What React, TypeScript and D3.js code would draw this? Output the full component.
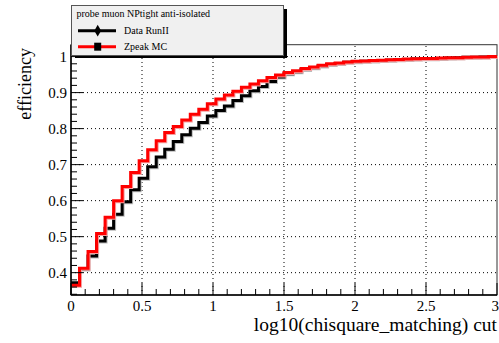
import React from "react";
import * as d3 from "d3";

const binWidth = 0.06;
const dataRunII = [
  0.372, 0.41, 0.446, 0.488, 0.523, 0.562, 0.597, 0.63, 0.662, 0.694,
  0.721, 0.743, 0.764, 0.783, 0.801, 0.817, 0.835, 0.85, 0.863, 0.878,
  0.891, 0.905, 0.917, 0.931, 0.943, 0.952, 0.958, 0.964, 0.969, 0.974,
  0.978, 0.981, 0.984, 0.986, 0.987, 0.988, 0.989, 0.99, 0.991, 0.992,
  0.993, 0.994, 0.994, 0.995, 0.996, 0.997, 0.998, 0.998, 0.999, 1.0,
];
const zpeakMC = [
  0.365, 0.412, 0.459, 0.509, 0.554, 0.6, 0.639, 0.678, 0.711, 0.741,
  0.766, 0.789, 0.806, 0.824, 0.84, 0.854, 0.869, 0.882, 0.893, 0.904,
  0.915, 0.924, 0.933, 0.942, 0.949, 0.956, 0.961, 0.967, 0.971, 0.976,
  0.98, 0.982, 0.985, 0.987, 0.988, 0.989, 0.99, 0.991, 0.992, 0.993,
  0.994, 0.995, 0.995, 0.996, 0.997, 0.997, 0.998, 0.999, 0.999, 1.0,
];
const xTicks = [0, 0.5, 1, 1.5, 2, 2.5, 3];
const xTickLabels = ["0", "0.5", "1", "1.5", "2", "2.5", "3"];
const yTicks = [0.4, 0.5, 0.6, 0.7, 0.8, 0.9, 1.0];
const yTickLabels = ["0.4", "0.5", "0.6", "0.7", "0.8", "0.9", "1"];
const legendHeader = "probe muon NPtight anti-isolated";
const seriesNames = ["Data RunII", "Zpeak MC"];

const FONT = "'Liberation Serif', 'DejaVu Serif', serif";

export default function App() {
  const W = 499, H = 343;
  const x = d3.scaleLinear().domain([0, 3]).range([71, 497]);
  const y = d3.scaleLinear().domain([0.338, 1.033]).range([295, 44.7]);
  const [x0, x1] = x.range();
  const [yb, yt] = y.range();

  const stepLine = d3
    .line<[number, number]>()
    .x((d) => x(d[0]))
    .y((d) => y(d[1]))
    .curve(d3.curveStepAfter);
  const pts = (vals: number[]): [number, number][] => {
    const p: [number, number][] = vals.map((v, i) => [i * binWidth, v]);
    p.push([vals.length * binWidth, vals[vals.length - 1]]);
    return p;
  };

  const xMinor = d3.range(0, 3.0001, 0.1);
  const yMinor = d3.range(0.34, 1.0301, 0.02);

  return (
    <svg
      width={W}
      height={H}
      style={{ position: "absolute", left: 0, top: 0, background: "#fff" }}
      fontFamily={FONT}
    >
      <rect x={0} y={0} width={W} height={H} fill="#fff" />
      {/* grid */}
      {xTicks.slice(1, -1).map((t) => (
        <line key={"gx" + t} x1={x(t)} x2={x(t)} y1={yb} y2={yt} stroke="#000" strokeWidth={1} strokeDasharray="1,3" />
      ))}
      {yTicks.map((t) => (
        <line key={"gy" + t} x1={x0} x2={x1} y1={y(t)} y2={y(t)} stroke="#000" strokeWidth={1} strokeDasharray="1,3" />
      ))}
      {/* frame */}
      <rect x={x0} y={yt} width={x1 - x0} height={yb - yt} fill="none" stroke="#333" strokeWidth={1} />
      {/* series */}
      <path d={stepLine(pts(dataRunII)) || ""} fill="none" stroke="#bbb" strokeWidth={3} transform="translate(1,1)" />
      <path d={stepLine(pts(dataRunII)) || ""} fill="none" stroke="#000" strokeWidth={3} />
      <path d={stepLine(pts(zpeakMC)) || ""} fill="none" stroke="#f4a0a0" strokeWidth={3} transform="translate(1,1)" />
      <path d={stepLine(pts(zpeakMC)) || ""} fill="none" stroke="#ff0000" strokeWidth={3} />
      {/* axes */}
      <line x1={x0} x2={x0} y1={yb} y2={yt} stroke="#000" strokeWidth={1.5} />
      <line x1={x0} x2={x1} y1={yb} y2={yb} stroke="#000" strokeWidth={1.5} />
      {xMinor.map((t, i) => (
        <line key={"xm" + i} x1={x(t)} x2={x(t)} y1={yb} y2={yb - (i % 5 === 0 ? 12 : 6)} stroke="#000" strokeWidth={1} />
      ))}
      {yMinor.map((t, i) => {
        const major = Math.abs(Math.round(t * 10) - t * 10) < 1e-6;
        return (
          <line key={"ym" + i} x1={x0} x2={x0 + (major ? 12 : 6)} y1={y(t)} y2={y(t)} stroke="#000" strokeWidth={1} />
        );
      })}
      {xTicks.map((t, i) => {
        const last = i === xTicks.length - 1;
        return (
          <text key={"xl" + t} x={last ? 499 : x(t)} y={yb + 16} fontSize={15} textAnchor={last ? "end" : "middle"} fill="#000">
            {xTickLabels[i]}
          </text>
        );
      })}
      {yTicks.map((t, i) => (
        <text key={"yl" + t} x={x0 - 4} y={y(t) + 5} fontSize={15} textAnchor="end" fill="#000">
          {yTickLabels[i]}
        </text>
      ))}
      <text x={497} y={331} fontSize={19.5} textAnchor="end" fill="#000">
        log10(chisquare_matching) cut
      </text>
      <text transform="translate(31,48) rotate(-90)" fontSize={18} textAnchor="end" fill="#000">
        efficiency
      </text>
      {/* legend */}
      <rect x={75} y={9} width={212} height={49} fill="#000" />
      <rect x={71.5} y={5.5} width={212} height={50} fill="#f0f0f0" stroke="#555" strokeWidth={1} />
      <text x={76.5} y={16.5} fontSize={10} fill="#000">{legendHeader}</text>
      <line x1={78} x2={116} y1={30.7} y2={30.7} stroke="#000" strokeWidth={3} />
      <path d={d3.symbol(d3.symbolDiamond, 40)() || ""} transform="translate(97.7,30.7)" fill="#000" />
      <text x={124} y={34} fontSize={10} fill="#000">{seriesNames[0]}</text>
      <line x1={78} x2={116} y1={46.7} y2={46.7} stroke="#ff0000" strokeWidth={3} />
      <rect x={94.2} y={42.7} width={7} height={8} fill="#000" />
      <text x={124} y={50} fontSize={10} fill="#000">{seriesNames[1]}</text>
    </svg>
  );
}
